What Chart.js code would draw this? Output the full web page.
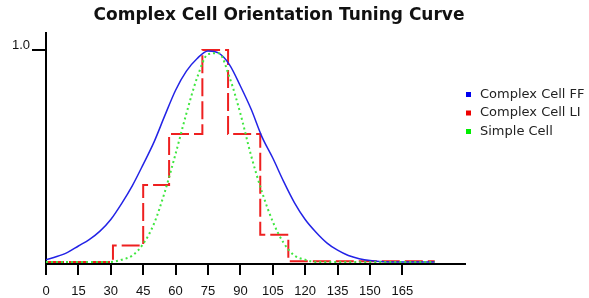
<!DOCTYPE html>
<html>
<head>
<meta charset="utf-8">
<script src="https://cdn.jsdelivr.net/npm/chart.js@4/dist/chart.umd.min.js"></script>
<style>
  html, body { margin: 0; padding: 0; background: #ffffff; }
  #wrap { width: 589px; height: 298px; position: relative; }
</style>
</head>
<body>
<div id="wrap"><canvas id="c" width="589" height="298"></canvas></div>
<script>
// ---- data ----
const chartTitle = "Complex Cell Orientation Tuning Curve";
const seriesNames = ["Complex Cell FF", "Complex Cell LI", "Simple Cell"];
const angles = [0,5,10,15,20,25,30,35,40,45,50,55,60,65,70,75,80,85,90,95,100,105,110,115,120,125,130,135,140,145,150,155,160,165,170,175,180];
const complexFF = [0.01,0.025,0.045,0.075,0.105,0.145,0.20,0.275,0.36,0.46,0.565,0.69,0.81,0.90,0.96,0.995,0.985,0.93,0.83,0.72,0.59,0.49,0.38,0.28,0.20,0.14,0.09,0.055,0.03,0.015,0.006,0.002,0,0,0,0,0];
const simpleCell = [0,0,0,0,0,0,0,0.01,0.03,0.085,0.18,0.33,0.51,0.70,0.87,0.98,0.985,0.87,0.70,0.50,0.33,0.19,0.09,0.03,0.01,0,0,0,0,0,0,0,0,0,0,0,0];
const liAngles = [0,31,45,57,72.4,84.3,99.2,112.2,180];
const complexLI = [0,0.077,0.363,0.604,1.0,0.604,0.128,0.003,0.003];
const xTicks = [0,15,30,45,60,75,90,105,120,135,150,165];
const yTicks = [1.0];

const colors = ["#2323e6", "#ee2020", "#3fe63f"];

function pts(xs, ys) { return xs.map((x, i) => ({ x: x, y: ys[i] })); }

const overlay = {
  id: 'overlay',
  afterDraw(chart) {
    const ctx = chart.ctx;
    ctx.save();
    ctx.fillStyle = '#111111';
    ctx.font = 'bold 17px "DejaVu Sans"';
    ctx.textAlign = 'center';
    ctx.textBaseline = 'middle';
    ctx.fillText(chartTitle, 279, 15.5);
    // legend
    const lx = 466, ly0 = 94, dy = 18.5;
    ctx.font = '13px "DejaVu Sans"';
    ctx.textAlign = 'left';
    ctx.textBaseline = 'middle';
    seriesNames.forEach((n, i) => {
      const y = ly0 + i * dy;
      ctx.fillStyle = ['#0000ee', '#ee0000', '#00ee00'][i];
      ctx.fillRect(lx, y - 2, 5, 5);
      ctx.fillStyle = '#222222';
      ctx.fillText(n, 480, y + 0.5);
    });
    ctx.restore();
  }
};

new Chart(document.getElementById('c'), {
  type: 'line',
  data: {
    datasets: [
      { label: seriesNames[2], data: pts(angles, simpleCell), borderColor: colors[2], borderWidth: 2,
        borderDash: [2, 3], pointRadius: 0, cubicInterpolationMode: 'monotone', order: 1, fill: false },
      { label: seriesNames[0], data: pts(angles, complexFF), borderColor: colors[0], borderWidth: 1.5,
        pointRadius: 0, cubicInterpolationMode: 'monotone', order: 2, fill: false },
      { label: seriesNames[1], data: pts(liAngles, complexLI), borderColor: colors[1], borderWidth: 2,
        borderDash: [18, 5], stepped: 'before', pointRadius: 0, order: 3, fill: false }
    ]
  },
  options: {
    responsive: false,
    animation: false,
    devicePixelRatio: 1,
    layout: { padding: { left: 0, right: 124, top: 33, bottom: 0 } },
    plugins: { legend: { display: false }, title: { display: false }, tooltip: { enabled: false } },
    scales: {
      x: {
        type: 'linear', min: 0, max: 194,
        afterBuildTicks: (s) => { s.ticks = xTicks.map(v => ({ value: v })); },
        afterFit: (s) => { s.height = 34; },
        border: { display: true, color: '#000', width: 2 },
        grid: { display: true, drawOnChartArea: false, drawTicks: true, tickLength: 11, color: '#000', lineWidth: 2 },
        ticks: { color: '#111', font: { family: 'Liberation Sans', size: 13 }, padding: 9, maxRotation: 0, autoSkip: false }
      },
      y: {
        type: 'linear', min: -0.01, max: 1.08,
        afterBuildTicks: (s) => { s.ticks = yTicks.map(v => ({ value: v })); },
        afterFit: (s) => { s.width = 46; },
        border: { display: true, color: '#000', width: 2 },
        grid: { display: true, drawOnChartArea: false, drawTicks: true, tickLength: 14, color: '#000', lineWidth: 2 },
        ticks: { color: '#111', font: { family: 'Liberation Sans', size: 13 }, padding: 2, labelOffset: -5,
          callback: (v) => Number(v).toFixed(1) }
      }
    }
  },
  plugins: [overlay]
});
</script>
</body>
</html>
